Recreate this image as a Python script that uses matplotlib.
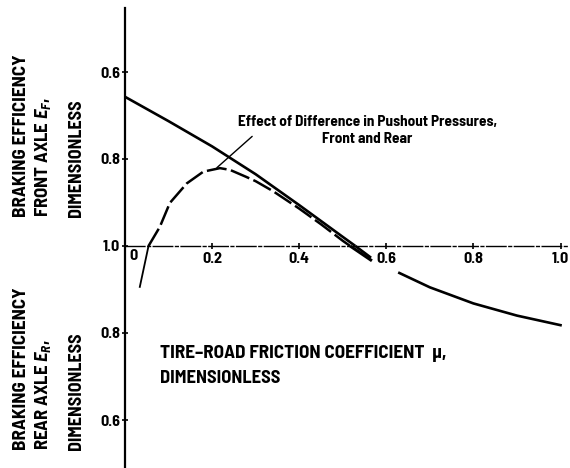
import matplotlib
matplotlib.use("Agg")
import matplotlib.pyplot as plt
import numpy as np

FAM = ['Barlow Semi Condensed', 'Roboto Condensed', 'Liberation Sans Narrow', 'Liberation Sans', 'DejaVu Sans']
plt.rcParams['font.family'] = FAM
plt.rcParams['font.weight'] = 'bold'
plt.rcParams['mathtext.fontset'] = 'custom'
plt.rcParams['mathtext.rm'] = 'Barlow Semi Condensed:bold'
plt.rcParams['mathtext.it'] = 'Barlow Semi Condensed:italic:bold'

# ---- data (tire-road friction coefficient mu vs braking efficiency) ----
# solid curve: front axle efficiency (upper half), rear axle efficiency (lower half)
mu_front = [0.0, 0.1, 0.2, 0.3, 0.4, 0.5, 0.529]
ef_front = [0.657, 0.713, 0.771, 0.835, 0.906, 0.979, 1.0]
mu_rear_a = [0.529, 0.565]
er_rear_a = [1.0, 0.973]
mu_rear_b = [0.63, 0.7, 0.8, 0.9, 1.0]
er_rear_b = [0.938, 0.905, 0.868, 0.840, 0.818]

# dashed curve: effect of difference in pushout pressures, front and rear
mu_d_rear0 = [0.034, 0.054]
e_d_rear0 = [0.906, 1.0]
mu_d_front = [0.054, 0.08, 0.103, 0.142, 0.18, 0.218, 0.241, 0.278, 0.3, 0.34, 0.4, 0.45, 0.5, 0.517]
e_d_front = [1.0, 0.956, 0.901, 0.856, 0.829, 0.821, 0.825, 0.841, 0.851, 0.874, 0.914, 0.950, 0.988, 1.0]
mu_d_rear1 = [0.517, 0.567]
e_d_rear1 = [1.0, 0.966]

x_ticks = [0.0, 0.2, 0.4, 0.6, 0.8, 1.0]
x_labels = ['', '0.2', '0.4', '0.6', '0.8', '1.0']
y_ticks_E = [0.6, 0.8, 1.0, 0.8, 0.6]


def up(e):
    return 1.0 - np.asarray(e, dtype=float)


def down(e):
    return np.asarray(e, dtype=float) - 1.0


W, H = 570, 468
fig = plt.figure(figsize=(W / 100, H / 100), dpi=100)
ax = fig.add_axes([125 / W, 0, 445 / W, 1])
ax.set_facecolor('none')

ppx = 435.5  # pixels per unit mu
ppy = 87 / 0.2  # pixels per unit efficiency
ax.set_xlim(0, 445 / ppx)
ax.set_ylim(-(468 - 246) / ppy, 246 / ppy)

for s in ['top', 'right']:
    ax.spines[s].set_visible(False)
ax.spines['left'].set_bounds(-(468 - 246) / ppy, (246 - 8) / ppy)
ax.spines['left'].set_linewidth(1.6)
ax.spines['bottom'].set_position(('data', 0))
ax.spines['bottom'].set_bounds(0, 1.02)
ax.spines['bottom'].set_linewidth(1.0)
ax.spines['bottom'].set_linestyle((0, (14, 2, 2, 2)))

# y ticks: upper half = front axle, lower half = rear axle
y_pos = [up(0.6), up(0.8), 0.0, down(0.8), down(0.6)]
ax.set_yticks(y_pos)
ax.set_yticklabels([f'{v:.1f}' for v in y_ticks_E])
ax.set_xticks(x_ticks)
ax.set_xticklabels(x_labels)
ax.tick_params(axis='both', direction='inout', length=5, width=1.2, labelsize=11.5)
ax.tick_params(axis='y', pad=1)
ax.tick_params(axis='x', pad=2)
ax.text(0.02, -0.008, '0', ha='center', va='top', fontsize=11.5, fontweight='bold')
for lab in ax.get_xticklabels() + ax.get_yticklabels():
    lab.set_fontweight('bold')

# curves
ax.plot(mu_front, up(ef_front), color='black', lw=1.9, solid_capstyle='butt')
ax.plot(mu_rear_a, down(er_rear_a), color='black', lw=1.9, solid_capstyle='butt')
ax.plot(mu_rear_b, down(er_rear_b), color='black', lw=1.9)

ax.plot(mu_d_rear0, down(e_d_rear0), color='black', lw=1.3)
ax.plot(mu_d_front, up(e_d_front), color='black', lw=1.8, dashes=(8, 1.8))
ax.plot(mu_d_rear1, down(e_d_rear1), color='black', lw=2.2, solid_capstyle='butt')

# annotation
ax.annotate('', xy=(0.211, up(0.82)), xytext=(0.292, 0.252),
            arrowprops=dict(arrowstyle='-', lw=1.0, color='black', shrinkA=0, shrinkB=0))
ax.text(0.557, (246 - 115) / ppy,
        'Effect of Difference in Pushout Pressures,\nFront and Rear',
        ha='center', va='top', fontsize=11, fontweight='bold', linespacing=1.3)

ax.text(0.08, -(345 - 246) / ppy, 'TIRE\u2013ROAD FRICTION COEFFICIENT  \u03bc,',
        ha='left', va='top', fontsize=13.8, fontweight='bold')
ax.text(0.08, -(370 - 246) / ppy, 'DIMENSIONLESS',
        ha='left', va='top', fontsize=13.3, fontweight='bold')


# y-axis label blocks (rotated)
def vlab(xpx, ybot, s, size):
    fig.text(xpx / W, 1 - ybot / H, s, rotation=90, ha='center', va='bottom',
             fontsize=size, fontweight='bold')


vlab(22, 217, 'BRAKING EFFICIENCY', 13.8)
vlab(43, 217, r'FRONT AXLE $\mathit{E_F}$,', 13.5)
vlab(77, 217, 'DIMENSIONLESS', 13.0)
vlab(22, 450, 'BRAKING EFFICIENCY', 13.8)
vlab(43, 450, r'REAR AXLE $\mathit{E_R}$,', 13.5)
vlab(77, 450, 'DIMENSIONLESS', 13.0)

fig.savefig('out.png', dpi=100)
